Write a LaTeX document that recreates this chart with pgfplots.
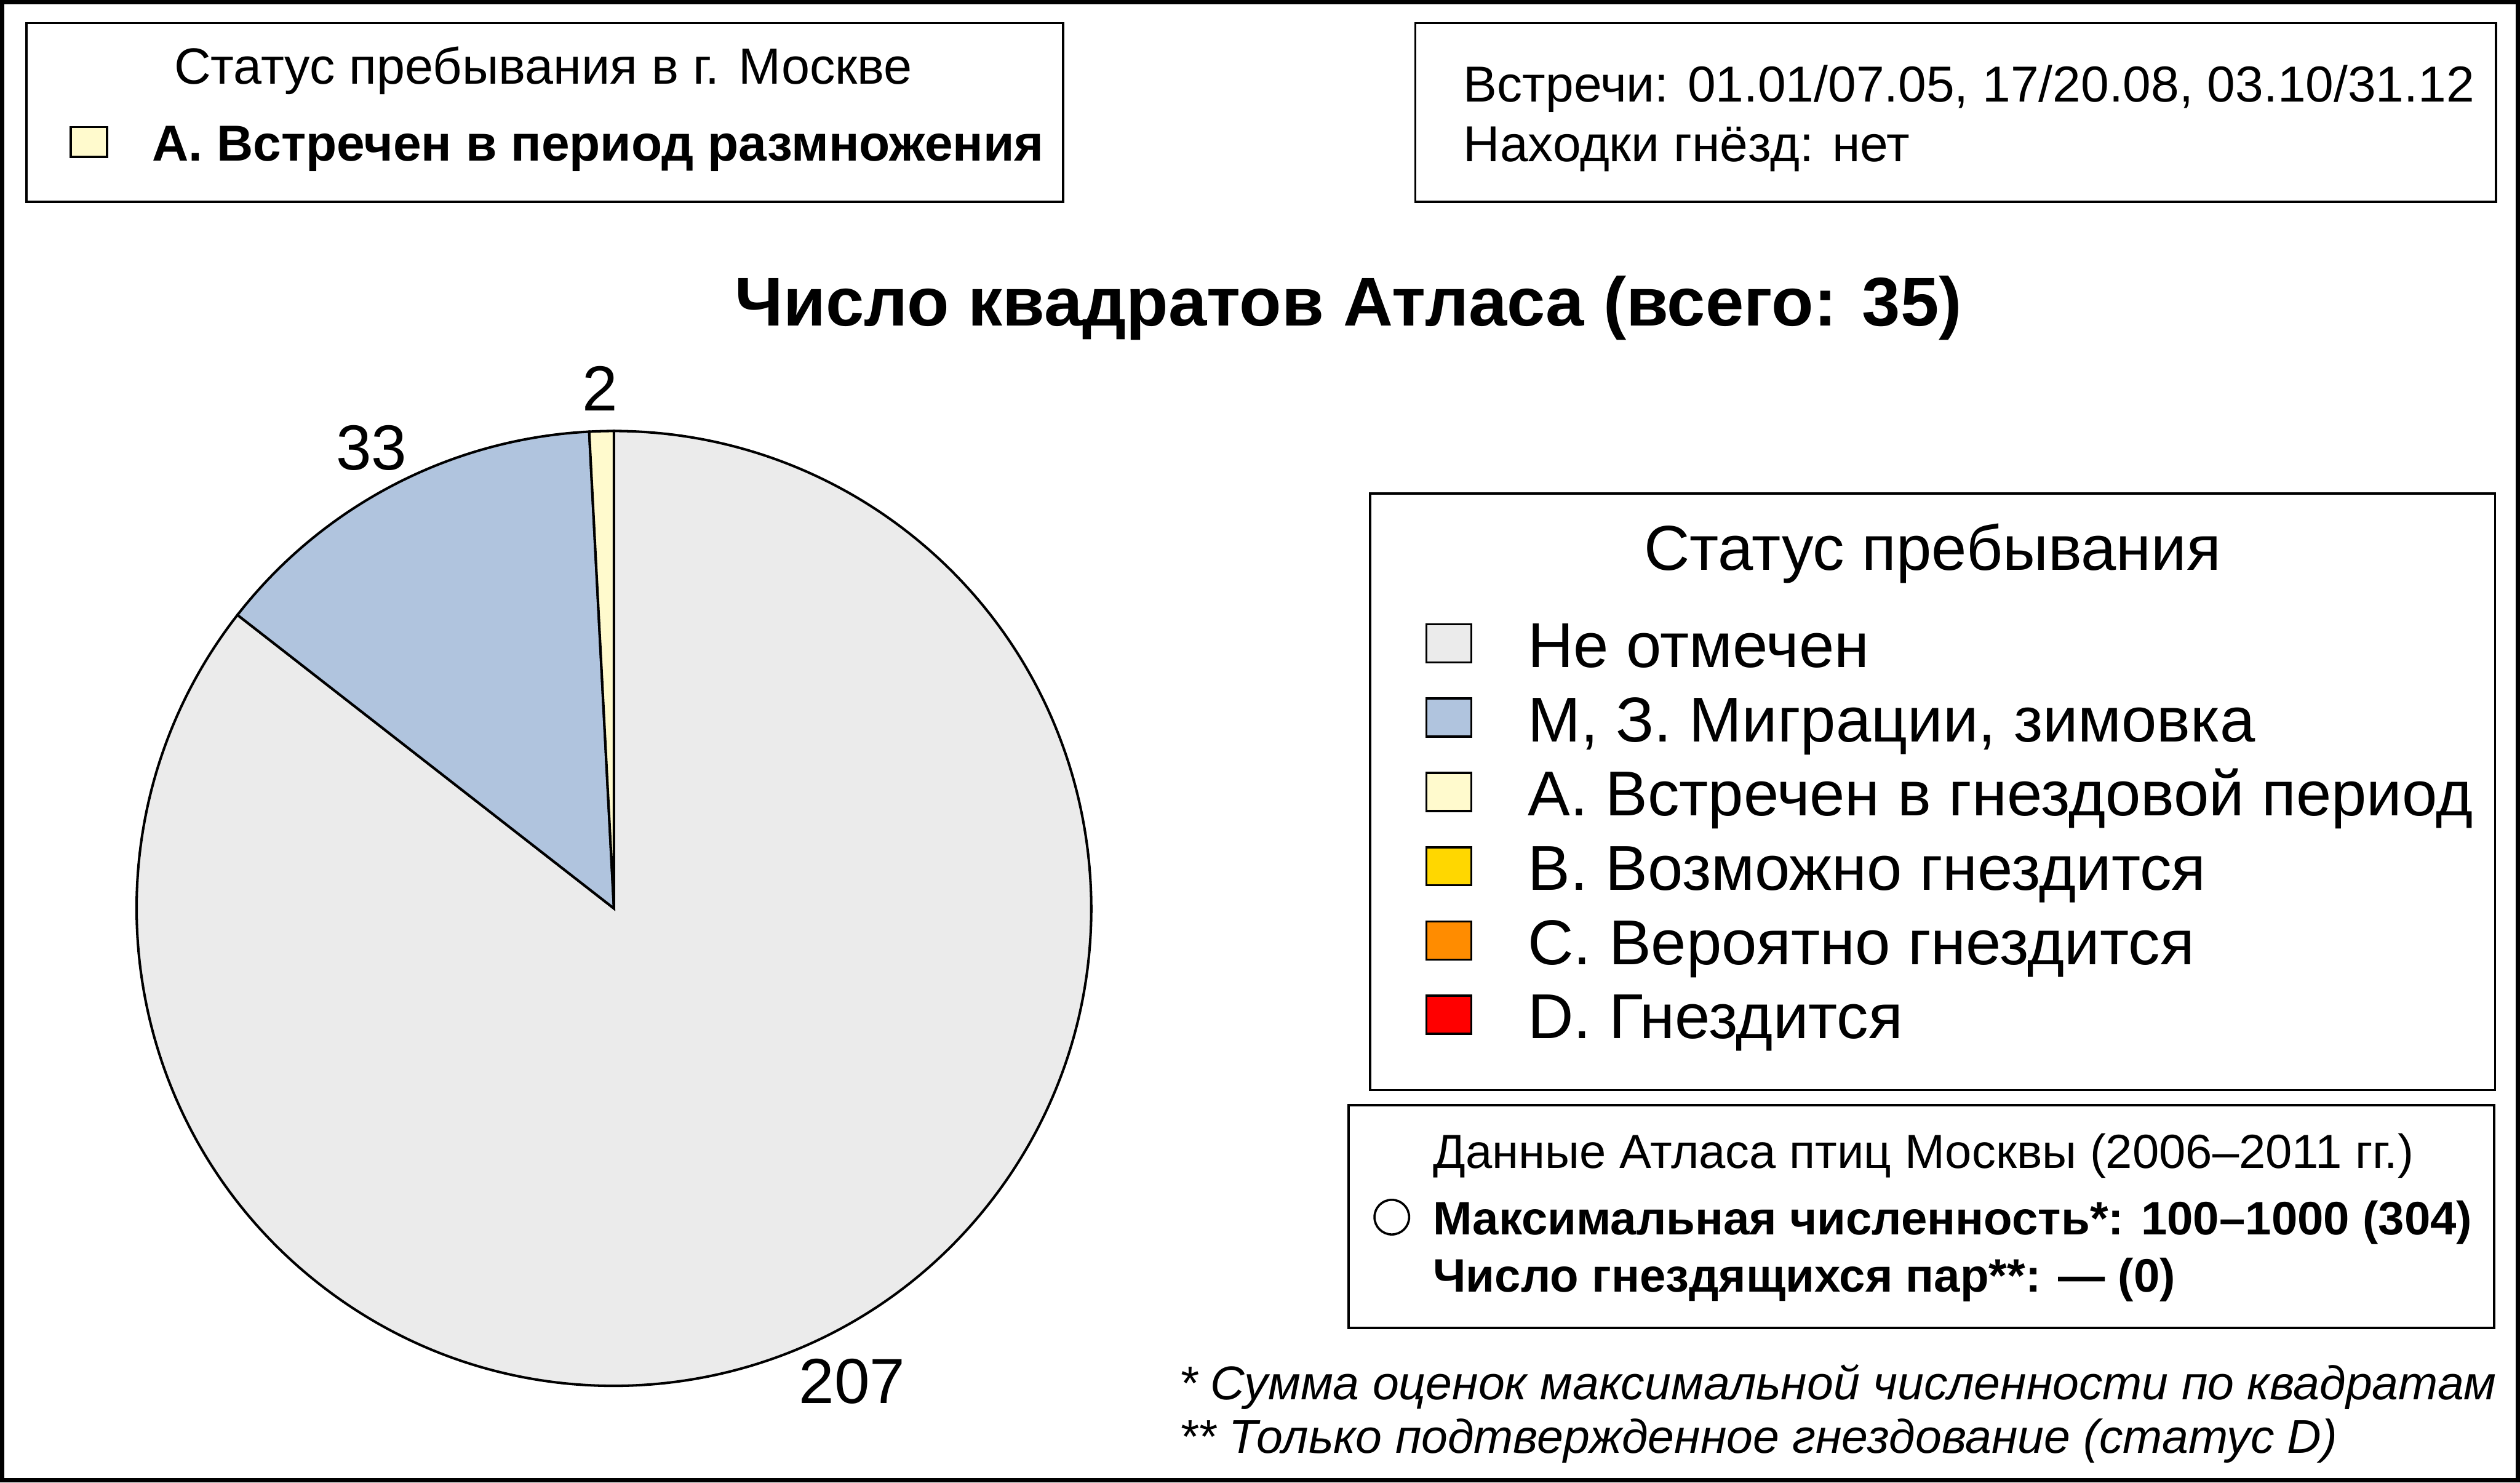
\documentclass[border=0pt]{standalone}
\usepackage{pgfplots}
\pgfplotsset{compat=1.18}
\usepackage{pgfplotstable}
\usepackage{fontspec}
\setmainfont{Liberation Sans}
\definecolor{pgray}{HTML}{EBEBEB}
\definecolor{pblue}{HTML}{B0C4DE}
\definecolor{pyel}{HTML}{FFFACD}
\definecolor{lgold}{HTML}{FFD700}
\definecolor{lorange}{HTML}{FF8C00}
\definecolor{lred}{HTML}{FF0000}
\newcommand\fs[1]{\fontsize{#1}{#1}\selectfont}

% pie data: squares by status (A, M/Z, not recorded)
\pgfplotstableread{
label value
A 2
MZ 33
N 207
}\piedata
\pgfplotstablegetelem{0}{value}\of\piedata \let\vA\pgfplotsretval
\pgfplotstablegetelem{1}{value}\of\piedata \let\vB\pgfplotsretval
\pgfplotstablegetelem{2}{value}\of\piedata \let\vC\pgfplotsretval
\pgfmathsetmacro\tot{\vA+\vB+\vC}
\pgfmathsetmacro\aA{90+360*\vA/\tot}
\pgfmathsetmacro\aB{\aA+360*\vB/\tot}
\pgfmathsetmacro\mA{(90+\aA)/2}
\pgfmathsetmacro\mB{(\aA+\aB)/2}
\pgfmathsetmacro\mC{(\aB+450)/2}
\def\R{3.0306cm}
\def\RL{3.33cm}

\begin{document}
\begin{tikzpicture}
\begin{axis}[scale only axis, width=16cm, height=9.4105cm,
  xmin=0, xmax=1568, ymin=0, ymax=922, y dir=reverse,
  hide axis, clip=false]
% outer frame
\draw[line width=0.76pt] (axis cs:1.3,1.3) rectangle (axis cs:1566.7,920.7);

% box 1
\draw[line width=0.4pt] (axis cs:16.5,14.4) rectangle (axis cs:661.5,125.6);
\node[anchor=base, inner sep=0, font=\fs{9.2}] at (axis cs:338,52.2) {Статус пребывания в г. Москве};
\draw[line width=0.4pt, fill=pyel] (axis cs:44,79) rectangle (axis cs:66.6,97.6);
\node[anchor=base west, inner sep=0, font=\fs{9.13}\bfseries] at (axis cs:94,100) {А. Встречен в период размножения};

% box 2
\draw[line width=0.4pt] (axis cs:880.7,14.4) rectangle (axis cs:1553,125.6);
\node[anchor=base west, inner sep=0, font=\fs{9.13}] at (axis cs:910,63.4) {Встречи: 01.01/07.05, 17/20.08, 03.10/31.12};
\node[anchor=base west, inner sep=0, font=\fs{9.13}] at (axis cs:910,100.5) {Находки гнёзд: нет};

% title
\node[anchor=base, inner sep=0, font=\fs{12.45}\bfseries] at (axis cs:839,202.6) {Число квадратов Атласа (всего: 35)};

% pie
\draw[line width=0.45pt, fill=pgray] (axis cs:382,565) -- ++(\aB:\R) arc[start angle=\aB, end angle=450, radius=\R] -- cycle;
\draw[line width=0.45pt, fill=pblue] (axis cs:382,565) -- ++(\aA:\R) arc[start angle=\aA, end angle=\aB, radius=\R] -- cycle;
\draw[line width=0.45pt, fill=pyel] (axis cs:382,565) -- ++(90:\R) arc[start angle=90, end angle=\aA, radius=\R] -- cycle;
\path (axis cs:382,565) ++(\mA:\RL) node[inner sep=0, yshift=-0.03cm, font=\fs{11.5}] {\vA};
\path (axis cs:382,565) ++(\mB:\RL) node[inner sep=0, yshift=-0.03cm, font=\fs{11.5}] {\vB};
\path (axis cs:382,565) ++(\mC:\RL) node[inner sep=0, yshift=-0.01cm, xshift=0.05cm, font=\fs{11.5}] {\vC};

% legend box
\draw[line width=0.4pt] (axis cs:852.6,307) rectangle (axis cs:1552.5,678);
\node[anchor=base, inner sep=0, font=\fs{11.45}] at (axis cs:1202.5,354.6) {Статус пребывания};
\draw[line width=0.4pt, fill=pgray] (axis cs:887.5,388.3) rectangle (axis cs:915.5,412);
\draw[line width=0.4pt, fill=pblue] (axis cs:887.5,434.5) rectangle (axis cs:915.5,458.2);
\draw[line width=0.4pt, fill=pyel] (axis cs:887.5,480.7) rectangle (axis cs:915.5,504.4);
\draw[line width=0.4pt, fill=lgold] (axis cs:887.5,526.9) rectangle (axis cs:915.5,550.6);
\draw[line width=0.4pt, fill=lorange] (axis cs:887.5,573.1) rectangle (axis cs:915.5,596.8);
\draw[line width=0.4pt, fill=lred] (axis cs:887.5,619.3) rectangle (axis cs:915.5,643);
\node[anchor=base west, inner sep=0, font=\fs{11.45}] at (axis cs:950,415) {Не отмечен};
\node[anchor=base west, inner sep=0, font=\fs{11.45}] at (axis cs:950,461.2) {М, З. Миграции, зимовка};
\node[anchor=base west, inner sep=0, font=\fs{11.45}] at (axis cs:950,507.4) {А. Встречен в гнездовой период};
\node[anchor=base west, inner sep=0, font=\fs{11.45}] at (axis cs:950,553.6) {В. Возможно гнездится};
\node[anchor=base west, inner sep=0, font=\fs{11.45}] at (axis cs:950,599.8) {С. Вероятно гнездится};
\node[anchor=base west, inner sep=0, font=\fs{11.45}] at (axis cs:950,646) {D. Гнездится};

% atlas data box
\draw[line width=0.4pt] (axis cs:839,687.3) rectangle (axis cs:1552,826);
\node[anchor=base west, inner sep=0, font=\fs{8.65}] at (axis cs:891,726.5) {Данные Атласа птиц Москвы (2006–2011 гг.)};
\draw[line width=0.4pt] (axis cs:866,757) circle[radius=0.11cm];
\node[anchor=base west, inner sep=0, font=\fs{8.47}\bfseries] at (axis cs:891,767.8) {Максимальная численность*: 100–1000 (304)};
\node[anchor=base west, inner sep=0, font=\fs{8.47}\bfseries] at (axis cs:891,803.5) {Число гнездящихся пар**: — (0)};

% footnotes
\node[anchor=base west, inner sep=0, font=\fs{8.56}\itshape] at (axis cs:733,870.5) {* Сумма оценок максимальной численности по квадратам};
\node[anchor=base west, inner sep=0, font=\fs{8.56}\itshape] at (axis cs:733,903.6) {** Только подтвержденное гнездование (статус D)};
\end{axis}
\pgfresetboundingbox
\useasboundingbox (0,0) rectangle (16cm,9.4105cm);
\end{tikzpicture}
\end{document}
